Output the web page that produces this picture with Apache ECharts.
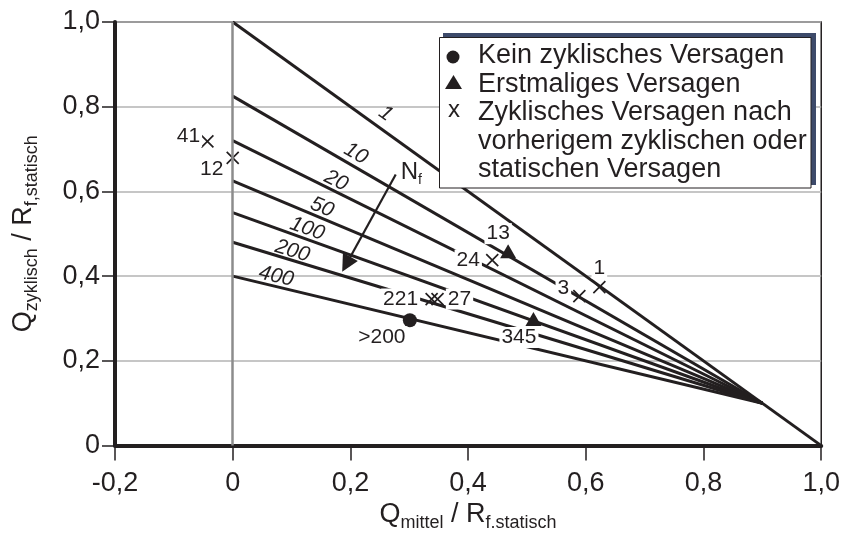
<!DOCTYPE html>
<html>
<head>
<meta charset="utf-8">
<script src="https://cdn.jsdelivr.net/npm/echarts@6/dist/echarts.min.js"></script>
<style>
  html, body { margin: 0; padding: 0; background: #ffffff; }
  #chart { width: 843px; height: 537px; }
</style>
</head>
<body>
<div id="chart"></div>
<script>
// Lines of constant cycle number N_f: value at Q_mittel = 0, all meeting the static limit line
const nfValues = [1, 10, 20, 50, 100, 200, 400];
const nfIntercepts = [1.0, 0.825, 0.72, 0.625, 0.55, 0.48, 0.40];
const nfMeetPoint = [0.9, 0.1];
const staticEnd = [1.0, 0.0];
// where along each line (Q_mittel) its N_f label sits
const nfLabelX = [0.245, 0.199, 0.168, 0.145, 0.121, 0.097, 0.070];

// Test results
const noFailurePts = [[0.301, 0.296]];
const noFailureLabels = ['>200'];
const firstFailurePts = [[0.468, 0.459], [0.511, 0.299]];
const firstFailureLabels = ['13', '345'];
const repeatFailurePts = [[-0.043, 0.718], [0.0, 0.679], [0.441, 0.438], [0.589, 0.353], [0.623, 0.374], [0.338, 0.346], [0.348, 0.346]];
const repeatFailureLabels = ['41', '12', '24', '3', '1', '221', '27'];

// Direction of increasing N_f
const arrowFrom = [0.277, 0.640];
const arrowTo = [0.193, 0.428];

const xTicks = [-0.2, 0, 0.2, 0.4, 0.6, 0.8, 1.0];
const xTickLabels = ['-0,2', '0', '0,2', '0,4', '0,6', '0,8', '1,0'];
const yTicks = [0, 0.2, 0.4, 0.6, 0.8, 1.0];
const yTickLabels = ['0', '0,2', '0,4', '0,6', '0,8', '1,0'];

const legendItems = [
  'Kein zyklisches Versagen',
  'Erstmaliges Versagen',
  'Zyklisches Versagen nach',
  'vorherigem zyklischen oder',
  'statischen Versagen'
];

// ---- styling ----
const INK = '#231f20';
const FONT = '"Liberation Sans", Arial, Helvetica, sans-serif';
const nfLabelLift = [15, 12, 10, 10, 10, 9, 10];
const noFailureLabelOffset = [[-28, 16.5]];
const firstFailureLabelOffset = [[-10, -17.5], [-14.5, 18.5]];
const repeatFailureLabelOffset = [[-19, -5], [-21, 11], [-24, 0], [-16, -8], [0, -19], [-31, 0], [22, 0]];

function tickText(ticks, labels) {
  return function (v) {
    const i = ticks.findIndex(t => Math.abs(t - v) < 1e-9);
    return i >= 0 ? labels[i] : '';
  };
}

function lineEnd(i) { return i === 0 ? staticEnd : nfMeetPoint; }
function yOnLine(i, x) {
  const e = lineEnd(i);
  return nfIntercepts[i] + (e[1] - nfIntercepts[i]) * (x / e[0]);
}

function pointData(pts, labels, offsets) {
  return pts.map((p, i) => ({
    value: p,
    label: { formatter: labels[i], offset: offsets[i] }
  }));
}

const pointLabel = {
  show: true,
  position: 'inside',
  color: INK,
  opacity: 1,
  fontFamily: FONT,
  fontSize: 21,
  backgroundColor: '#ffffff',
  padding: [0, 2]
};

const subRich = {
  m: { fontSize: 27, lineHeight: 34, fontFamily: FONT, color: INK },
  s: { fontSize: 18, lineHeight: 17, fontFamily: FONT, color: INK, verticalAlign: 'bottom' }
};

function nfLabelData(rotations) {
  return nfValues.map((v, i) => ({
    value: [nfLabelX[i], yOnLine(i, nfLabelX[i])],
    label: {
      formatter: String(v),
      rotate: rotations ? rotations[i] : 0,
      offset: [0, -nfLabelLift[i]]
    }
  }));
}

const series = [];

// vertical reference at Q_mittel = 0
series.push({
  type: 'line', data: [], z: 1, silent: true,
  markLine: {
    silent: true, symbol: 'none', animation: false,
    label: { show: false },
    lineStyle: { color: '#8c8c8c', width: 2.5, type: 'solid' },
    data: [{ xAxis: 0 }]
  }
});

nfValues.forEach((v, i) => {
  series.push({
    name: 'N_f = ' + v,
    type: 'line',
    data: [[0, nfIntercepts[i]], lineEnd(i)],
    showSymbol: false,
    silent: true,
    z: 2,
    lineStyle: { color: INK, width: 3 }
  });
});

series.push({
  id: 'nfLabels',
  type: 'scatter',
  symbolSize: 0,
  silent: true,
  z: 3,
  itemStyle: { opacity: 1 },
  label: {
    show: true, position: 'inside', color: INK, opacity: 1, fontFamily: FONT,
    fontSize: 21, fontStyle: 'italic'
  },
  data: nfLabelData(null)
});

series.push({
  type: 'lines',
  coordinateSystem: 'cartesian2d',
  silent: true,
  z: 3,
  symbol: ['none', 'triangle'],
  symbolSize: [13, 17],
  lineStyle: { color: INK, width: 2.2, opacity: 1 },
  data: [{ coords: [arrowFrom, arrowTo] }]
});

series.push({
  type: 'scatter',
  symbolSize: 0,
  silent: true,
  z: 3,
  itemStyle: { opacity: 1 },
  label: {
    show: true, position: 'right', distance: 5, offset: [0, -2], opacity: 1,
    formatter: '{n|N}{f|f}',
    rich: {
      n: { fontSize: 24, lineHeight: 30, fontFamily: FONT, color: INK },
      f: { fontSize: 14, lineHeight: 11, fontFamily: FONT, color: INK, verticalAlign: 'bottom' }
    }
  },
  data: [arrowFrom]
});

series.push({
  name: 'Kein zyklisches Versagen',
  type: 'scatter',
  symbol: 'circle',
  symbolSize: 14,
  z: 4,
  silent: true,
  itemStyle: { color: INK, opacity: 1 },
  label: pointLabel,
  data: pointData(noFailurePts, noFailureLabels, noFailureLabelOffset)
});

series.push({
  name: 'Erstmaliges Versagen',
  type: 'scatter',
  symbol: 'triangle',
  symbolSize: [16, 14],
  z: 4,
  silent: true,
  itemStyle: { color: INK, opacity: 1 },
  label: pointLabel,
  data: pointData(firstFailurePts, firstFailureLabels, firstFailureLabelOffset)
});

series.push({
  name: 'Zyklisches Versagen',
  type: 'scatter',
  symbol: 'path://M0,0L12,12M12,0L0,12',
  symbolSize: 12,
  z: 4,
  silent: true,
  itemStyle: { color: 'none', borderColor: INK, borderWidth: 1.7, opacity: 1 },
  label: pointLabel,
  data: pointData(repeatFailurePts, repeatFailureLabels, repeatFailureLabelOffset)
});

const option = {
  animation: false,
  backgroundColor: '#ffffff',
  grid: {
    left: 115, right: 19, top: 22, bottom: 90,
    show: true, borderColor: INK, borderWidth: 1.5, backgroundColor: 'transparent'
  },
  xAxis: {
    type: 'value', min: -0.2, max: 1.0, interval: 0.2,
    name: '{m|Q}{s|mittel}{m| / R}{s|f.statisch}',
    nameLocation: 'middle', nameGap: 44,
    nameTextStyle: { rich: subRich },
    axisLine: { onZero: false, lineStyle: { color: INK, width: 4 } },
    axisTick: { show: true, length: 15, lineStyle: { color: INK, width: 1.5 } },
    axisLabel: {
      margin: 24, color: INK, fontFamily: FONT, fontSize: 27,
      formatter: tickText(xTicks, xTickLabels)
    },
    splitLine: { show: false }
  },
  yAxis: {
    type: 'value', min: 0, max: 1.0, interval: 0.2,
    name: '{m|Q}{s|zyklisch}{m| / R}{s|f,statisch}',
    nameLocation: 'middle', nameRotate: 90, nameGap: 74,
    nameTextStyle: { rich: subRich },
    axisLine: { onZero: false, lineStyle: { color: INK, width: 4 } },
    axisTick: { show: true, length: 13, lineStyle: { color: INK, width: 1.5 } },
    axisLabel: {
      margin: 15, color: INK, fontFamily: FONT, fontSize: 27,
      formatter: tickText(yTicks, yTickLabels)
    },
    splitLine: { show: true, lineStyle: { color: '#b3b3b3', width: 1.5 } }
  },
  series: series,
  graphic: [
    { type: 'rect', z: 100, silent: true,
      shape: { x: 443, y: 33, width: 373, height: 152 },
      style: { fill: '#3d4a6a' } },
    { type: 'rect', z: 101, silent: true,
      shape: { x: 439.5, y: 37.5, width: 371.5, height: 150.5 },
      style: { fill: '#ffffff', stroke: INK, lineWidth: 1 } },
    { type: 'circle', z: 102, silent: true,
      shape: { cx: 453, cy: 57, r: 6.5 },
      style: { fill: INK } },
    { type: 'polygon', z: 102, silent: true,
      shape: { points: [[445, 89], [453.5, 75], [462, 89]] },
      style: { fill: INK } },
    { type: 'text', z: 102, silent: true, x: 454, y: 110.5,
      style: { text: 'x', fill: INK, fontFamily: FONT, fontSize: 24, align: 'center', verticalAlign: 'middle' } },
    { type: 'text', z: 102, silent: true, x: 478, y: 41.3,
      style: { text: legendItems.join('\n'), fill: INK, fontFamily: FONT, fontSize: 27, lineHeight: 28.6, align: 'left', verticalAlign: 'top' } }
  ]
};

const chart = echarts.init(document.getElementById('chart'), null, { renderer: 'canvas' });
chart.setOption(option);

// turn each N_f label along its line, using the chart's own pixel mapping
const rotations = nfValues.map((v, i) => {
  const a = chart.convertToPixel({ gridIndex: 0 }, [0, nfIntercepts[i]]);
  const b = chart.convertToPixel({ gridIndex: 0 }, lineEnd(i));
  return -Math.atan2(b[1] - a[1], b[0] - a[0]) * 180 / Math.PI;
});
chart.setOption({ series: [{ id: 'nfLabels', data: nfLabelData(rotations) }] });
</script>
</body>
</html>
